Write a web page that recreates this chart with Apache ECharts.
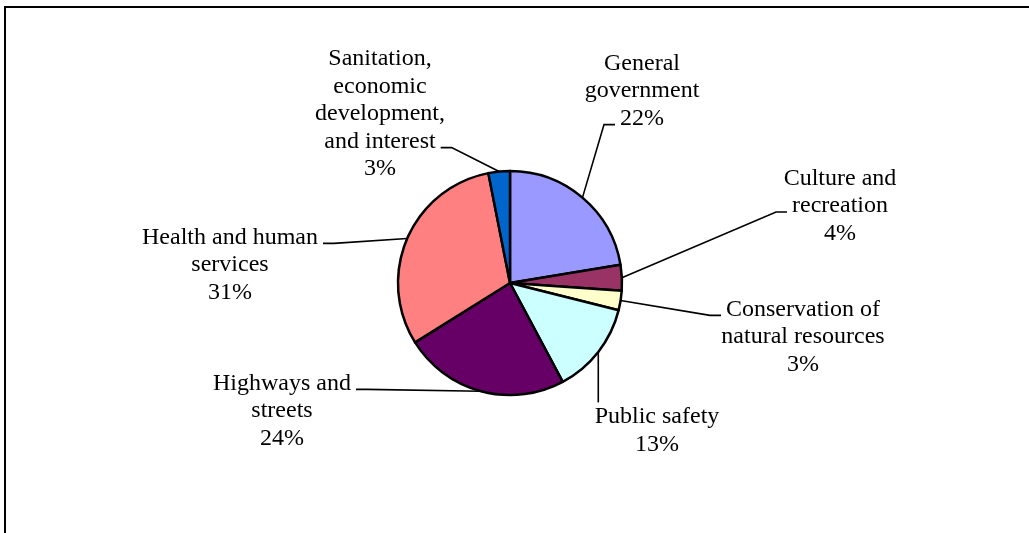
<!DOCTYPE html>
<html>
<head>
<meta charset="utf-8">
<script src="https://cdn.jsdelivr.net/npm/echarts@6/dist/echarts.min.js"></script>
<style>
  html, body { margin: 0; padding: 0; background: #fff; }
  #chart { width: 1029px; height: 533px; }
</style>
</head>
<body>
<div id="chart"></div>
<script>
// spending shares, clockwise from 12 o'clock
const categories = [
  'General\ngovernment',
  'Culture and\nrecreation',
  'Conservation of\nnatural resources',
  'Public safety',
  'Highways and\nstreets',
  'Health and human\nservices',
  'Sanitation,\neconomic\ndevelopment,\nand interest'
];
const shares = [22.4, 3.7, 2.8, 13.3, 23.9, 30.8, 3.1];
const colors = ['#9999FF', '#993366', '#FFFFCC', '#CCFFFF', '#660066', '#FF8080', '#0066CC'];

// label block centres and which side / line the leader line meets
const labelSpots = [
  [642, 91], [840, 206], [803, 337], [657, 431], [282, 411], [230, 265], [380, 114]
];
const labelHooks = [
  ['left', 2], ['left', 1], ['left', 0], ['top', 0], ['right', 0], ['right', 0], ['right', 3]
];

const FONT = '"Liberation Serif", "Times New Roman", serif';
const FS = 24;
const LH = 27.6;

const measureCtx = document.createElement('canvas').getContext('2d');
measureCtx.font = FS + 'px ' + FONT;
const textWidth = s => measureCtx.measureText(s).width;

const chart = echarts.init(document.getElementById('chart'));

const option = {
  animation: false,
  graphic: [{
    type: 'rect',
    shape: { x: 5, y: 7, width: 2000, height: 2000 },
    style: { fill: 'none', stroke: '#000', lineWidth: 2 }
  }],
  series: [{
    type: 'pie',
    center: [510, 283],
    radius: [0, 112],
    startAngle: 90,
    clockwise: true,
    percentPrecision: 0,
    itemStyle: { borderColor: '#000', borderWidth: 2.5 },
    label: {
      show: true,
      position: 'outside',
      formatter: '{b}\n{d}%',
      fontFamily: FONT,
      fontSize: FS,
      lineHeight: LH,
      color: '#000',
      align: 'center'
    },
    labelLine: {
      show: true,
      length: 20,
      length2: 12,
      smooth: false,
      lineStyle: { color: '#000', width: 1.6 }
    },
    labelLayout: function (params) {
      const i = params.dataIndex;
      const sx = labelSpots[i][0], sy = labelSpots[i][1];
      const lines = params.text.split('\n');
      const top = sy - lines.length * LH / 2;
      const start = params.labelLinePoints[0];
      const side = labelHooks[i][0], li = labelHooks[i][1];
      const lw = textWidth(lines[li]);
      const ey = top + (li + 0.5) * LH + 6;
      let pts;
      if (side === 'top') {
        const end = [start[0], top - 1];
        pts = [start, end, end];
      } else if (side === 'left') {
        const ex = sx - lw / 2 - 5;
        pts = [start, [ex - 11, ey], [ex, ey]];
      } else {
        const ex = sx + lw / 2 + 5;
        pts = [start, [ex + 11, ey], [ex, ey]];
      }
      return {
        x: sx, y: sy, align: 'center', verticalAlign: 'middle',
        labelLinePoints: pts
      };
    },
    data: categories.map((c, i) => ({
      name: c,
      value: shares[i],
      itemStyle: { color: colors[i] }
    }))
  }]
};

chart.setOption(option);
</script>
</body>
</html>
